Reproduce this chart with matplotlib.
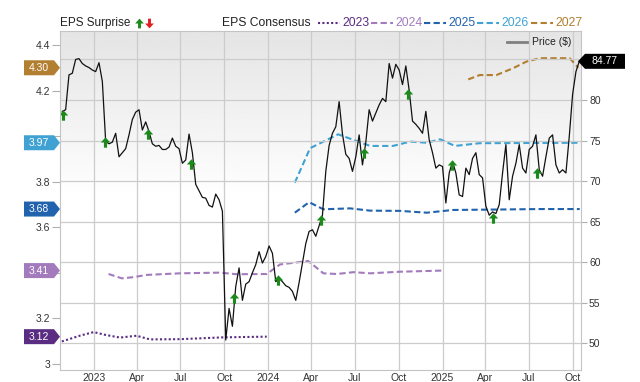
import numpy as np
import pandas as pd
import matplotlib
matplotlib.use("Agg")
import matplotlib.pyplot as plt
from matplotlib.path import Path
from matplotlib.patches import Polygon
from matplotlib.lines import Line2D
from matplotlib.ticker import FuncFormatter

plt.rcParams["font.family"] = ["Liberation Sans", "DejaVu Sans"]

# weekly closing price (right axis)
price_dates = pd.date_range(end="2025-10-15", periods=156, freq="7D")
price = [78.6, 78.8, 83.1, 83.3, 85.0, 85.1, 84.5, 84.2, 84.0, 83.7,
         83.5, 84.6, 82.3, 74.9, 74.6, 74.8, 75.9, 73.0, 73.5, 74.0,
         75.7, 77.6, 78.5, 78.8, 76.3, 77.3, 76.1, 74.6, 74.3, 74.4,
         73.9, 73.9, 74.2, 75.3, 74.3, 74.0, 72.2, 72.6, 75.8, 73.5,
         69.6, 68.8, 68.0, 67.9, 67.0, 66.8, 68.4, 67.7, 66.3, 50.4,
         54.3, 52.1, 57.0, 59.3, 55.3, 57.3, 57.6, 58.7, 59.7, 61.3,
         59.9, 60.7, 62.0, 61.1, 57.6, 58.0, 57.6, 57.1, 56.9, 56.4,
         55.3, 57.5, 59.9, 62.3, 63.8, 64.0, 63.2, 64.5, 65.8, 71.2,
         74.4, 75.9, 76.7, 79.8, 75.8, 73.3, 72.8, 71.2, 73.0, 75.7,
         72.0, 74.8, 78.8, 77.4, 78.4, 79.4, 80.2, 79.8, 84.5, 82.7,
         84.4, 83.7, 81.9, 84.2, 81.2, 77.4, 77.0, 76.5, 75.9, 78.6,
         75.1, 73.5, 71.6, 72.0, 71.8, 67.3, 71.0, 72.4, 71.0, 68.3,
         68.1, 71.6, 70.8, 72.8, 73.5, 70.8, 70.4, 66.9, 65.8, 66.2,
         66.0, 67.1, 71.0, 74.5, 67.7, 70.6, 72.2, 74.5, 71.6, 71.0,
         73.9, 74.3, 75.7, 71.4, 70.6, 73.0, 75.3, 75.7, 72.0, 71.0,
         71.4, 71.0, 75.5, 80.7, 83.5, 84.77]

# EPS surprise markers (all positive)
surprise_dates = pd.to_datetime(["2022-10-27", "2023-01-24", "2023-04-23", "2023-07-23",
                                 "2023-10-22", "2024-01-22", "2024-04-20", "2024-07-21",
                                 "2024-10-20", "2025-01-20", "2025-04-17", "2025-07-19"])
surprise_price = [78.2, 74.8, 75.8, 72.1, 55.6, 57.8, 65.2, 73.5, 80.7, 72.0, 65.5, 71.0]

# EPS consensus by fiscal year (left axis)
c2023_dates = pd.to_datetime(["2022-10-25", "2022-12-03", "2022-12-31", "2023-01-24", "2023-02-24",
                              "2023-03-31", "2023-04-28", "2023-06-30", "2023-09-29", "2023-12-29"])
c2023 = [3.099, 3.125, 3.140, 3.128, 3.116, 3.124, 3.108, 3.109, 3.117, 3.12]

c2024_dates = pd.to_datetime(["2023-01-31", "2023-02-28", "2023-03-24", "2023-04-21", "2023-06-30",
                              "2023-09-22", "2023-10-27", "2023-12-29", "2024-01-26", "2024-03-25",
                              "2024-04-26", "2024-05-24", "2024-06-28", "2024-08-02", "2024-10-04",
                              "2024-12-31"])
c2024 = [3.395, 3.376, 3.381, 3.391, 3.398, 3.401, 3.394, 3.395, 3.437, 3.452,
         3.398, 3.395, 3.403, 3.398, 3.405, 3.41]

c2025_dates = pd.to_datetime(["2024-02-26", "2024-03-27", "2024-04-26", "2024-06-21", "2024-08-02",
                              "2024-10-04", "2024-11-29", "2025-01-23", "2025-05-01", "2025-07-24",
                              "2025-10-16"])
c2025 = [3.664, 3.71, 3.679, 3.683, 3.673, 3.672, 3.664, 3.676, 3.678, 3.68, 3.68]

c2026_dates = pd.to_datetime(["2024-02-26", "2024-03-29", "2024-05-27", "2024-08-02", "2024-09-19",
                              "2024-10-25", "2024-11-29", "2024-12-27", "2025-01-27", "2025-03-20",
                              "2025-10-16"])
c2026 = [3.796, 3.947, 4.008, 3.957, 3.957, 3.976, 3.971, 3.986, 3.957, 3.969, 3.971]

c2027_dates = pd.to_datetime(["2025-02-24", "2025-03-20", "2025-04-24", "2025-05-29", "2025-06-26",
                              "2025-07-24", "2025-09-25", "2025-10-13"])
c2027 = [4.249, 4.268, 4.268, 4.298, 4.327, 4.342, 4.342, 4.30]

years = ["2023", "2024", "2025", "2026", "2027"]
cons = [(c2023_dates, c2023), (c2024_dates, c2024), (c2025_dates, c2025),
        (c2026_dates, c2026), (c2027_dates, c2027)]
colors = ["#5a2c82", "#a37bbd", "#2163ad", "#3fa2d3", "#b27e2f"]
styles = [(0, (1, 1.1)), (0, (3, 1.6)), (0, (3, 1.6)), (0, (3, 1.6)), (0, (3, 1.6))]

W, H = 640, 382
fig = plt.figure(figsize=(W / 100, H / 100), dpi=100)
pos = [60.4 / W, 12 / H, 520.3 / W, 339.3 / H]

# background gradient
ax_bg = fig.add_axes(pos, zorder=0)
grad = np.concatenate([np.linspace(0.895, 1.0, 60), np.ones(60)])[:, None]
ax_bg.imshow(grad, aspect="auto", cmap="gray", vmin=0, vmax=1, extent=[0, 1, 0, 1])
ax_bg.axis("off")

ax_c = fig.add_axes(pos, zorder=1)
ax_c.patch.set_visible(False)
ax_p = ax_c.twinx()
ax_p.set_zorder(2)
ax_p.patch.set_visible(False)

for (d, v), col, ls in zip(cons, colors, styles):
    ax_c.plot(d, v, color=col, ls=ls, lw=1.5)

ax_p.plot(price_dates, price, color="#111111", lw=0.9)

up = Path([(-0.15, -0.5), (0.15, -0.5), (0.15, 0.0), (0.45, 0.0), (0, 0.5),
           (-0.45, 0.0), (-0.15, 0.0), (-0.15, -0.5)],
          [Path.MOVETO] + [Path.LINETO] * 6 + [Path.CLOSEPOLY])
down = Path(up.vertices * [1, -1], up.codes)
ax_p.plot(surprise_dates, surprise_price, ls="none", marker=up, ms=7.5,
          color="#1b8a1b", mec="none")

xmin, xmax = pd.Timestamp("2022-10-22"), pd.Timestamp("2025-10-18")
ax_c.set_xlim(xmin, xmax)
ax_c.set_ylim(2.9737, 4.4627)
ax_p.set_ylim(46.71, 88.545)

qt = pd.date_range("2023-01-01", "2025-10-01", freq="QS")
ax_c.set_xticks(qt)
ax_c.set_xticklabels([str(t.year) if t.month == 1 else t.strftime("%b") for t in qt])
ax_c.set_yticks(np.arange(3.0, 4.41, 0.2))
# 4.0 and 3.4 sit behind the badges in the reference
ax_c.yaxis.set_major_formatter(
    FuncFormatter(lambda v, p: "" if round(v, 1) in (4.0, 3.4) else f"{v:g}"))
ax_p.set_yticks(range(50, 90, 5))
ax_p.yaxis.set_major_formatter(FuncFormatter(lambda v, p: "" if v > 82 else f"{v:g}"))

ax_c.grid(axis="x", color="#cccccc", lw=0.9)
ax_p.grid(axis="y", color="#cccccc", lw=0.9)
ax_c.tick_params(axis="x", length=0, pad=2, labelsize=7.5, labelcolor="#333333")
ax_c.tick_params(axis="y", length=6, width=0.8, color="#b0b0b0", pad=1.5,
                 labelsize=7.5, labelcolor="#333333")
ax_p.tick_params(axis="y", length=4.5, width=0.8, color="#b0b0b0", pad=1.5,
                 labelsize=7.5, labelcolor="#333333")
for s in ax_c.spines.values():
    s.set_visible(False)
for s in ax_p.spines.values():
    s.set_color("#c4c4c4")


def fy(ax, v):
    return ax.transData.transform((0, v))[1]


# left badges with the latest consensus value
for (d, v), col in zip(cons, colors):
    y = fy(ax_c, v[-1])
    pts = [(24, y - 7.5), (54, y - 7.5), (60, y), (54, y + 7.5), (24, y + 7.5)]
    fig.add_artist(Polygon([(x / W, yy / H) for x, yy in pts], closed=True,
                           transform=fig.transFigure, fc=col, ec="none", zorder=5))
    fig.text(39 / W, y / H, f"{v[-1]:.2f}", color="white", fontsize=7.5,
             ha="center", va="center", zorder=6)

# right badge with last price
y = fy(ax_p, price[-1])
pts = [(578, y), (585, y + 7.5), (625, y + 7.5), (625, y - 7.5), (585, y - 7.5)]
fig.add_artist(Polygon([(x / W, yy / H) for x, yy in pts], closed=True,
                       transform=fig.transFigure, fc="black", ec="none", zorder=5))
fig.text(605 / W, y / H, f"{price[-1]:.2f}", color="white", fontsize=7.5,
         ha="center", va="center", zorder=6)

# header legend
ty = (H - 23) / H
fig.text(60 / W, ty, "EPS Surprise", fontsize=8.5, color="#222222", va="center")
fig.add_artist(Line2D([139 / W], [ty], marker=up, ms=7, color="#1b8a1b", mec="none",
                      transform=fig.transFigure))
fig.add_artist(Line2D([148.5 / W], [ty], marker=down, ms=7, color="#e02020", mec="none",
                      transform=fig.transFigure))
fig.text(222 / W, ty, "EPS Consensus", fontsize=8.7, color="#222222", va="center")
leg_x = [318, 371, 424, 477, 531]
for x0, yr, col, ls in zip(leg_x, years, colors, styles):
    fig.add_artist(Line2D([x0 / W, (x0 + 22) / W], [ty, ty], color=col, ls=ls, lw=1.5,
                          transform=fig.transFigure))
    fig.text((x0 + 24) / W, ty, yr, fontsize=8.7, color=col, va="center")

# price legend
py = (H - 42) / H
fig.add_artist(Line2D([507 / W, 527 / W], [py, py], color="#808080", lw=2,
                      transform=fig.transFigure))
fig.text(532 / W, py, "Price ($)", fontsize=7.5, color="#222222", va="center")

fig.savefig("out.png", dpi=100)
